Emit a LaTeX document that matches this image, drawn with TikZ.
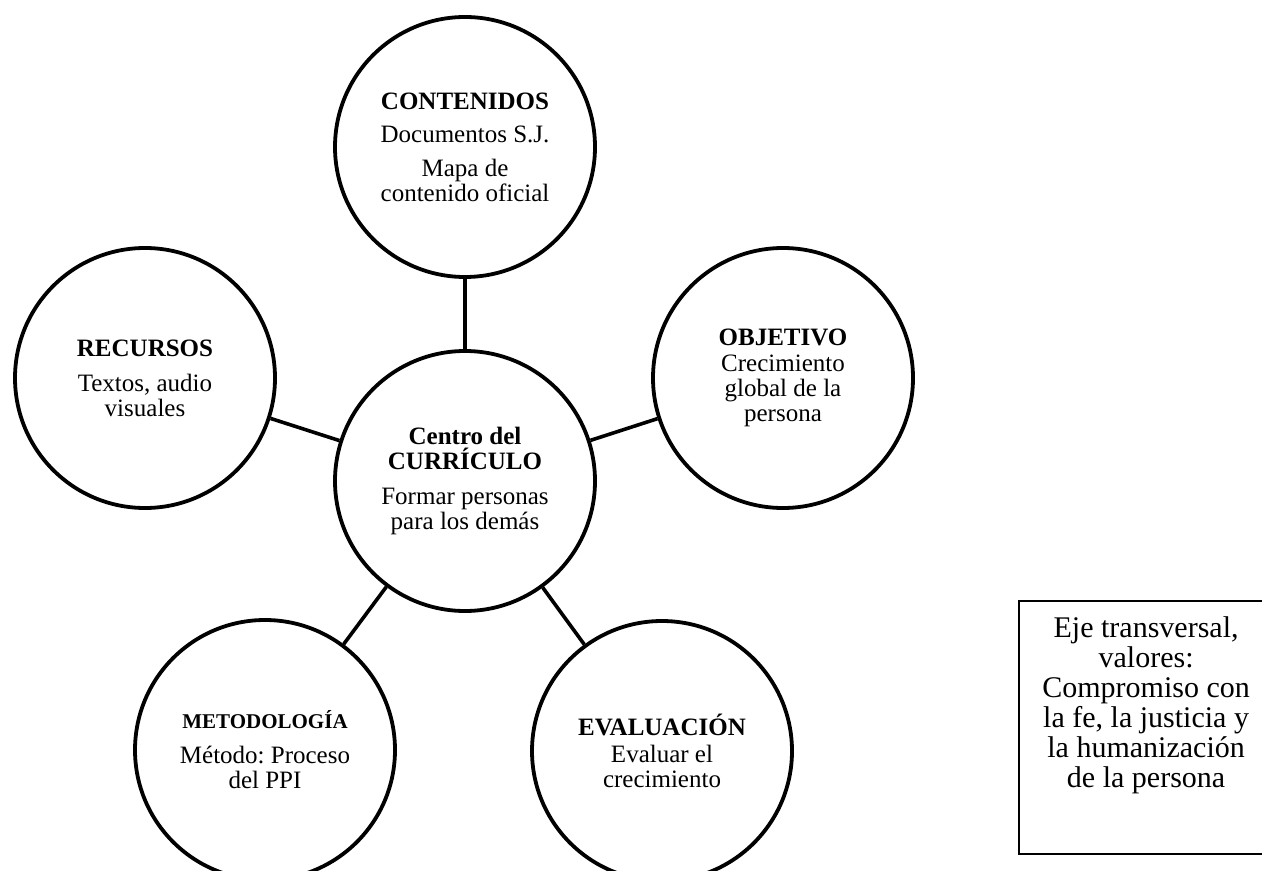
\documentclass[tikz,border=0pt]{standalone}
\usepackage{fontspec}
\setmainfont{Liberation Serif}
\usetikzlibrary{positioning}
\frenchspacing

\tikzset{
	ring/.style={circle, draw=black, line width=1.9pt, minimum size=130pt, inner sep=0pt, align=center, fill=white, font=\fontsize{12.5}{12.5}\selectfont},
	spoke/.style={line width=1.8pt},
	axisbox/.style={draw=black, line width=1.1pt, minimum width=127pt, minimum height=126.5pt, inner sep=0pt, anchor=north west},
	axistext/.style={inner sep=0pt, align=center, font=\fontsize{15}{15}\selectfont}
}

\begin{document}
\begin{tikzpicture}[x=0.5pt, y=-0.5pt]
	\clip (0,0) rectangle (1262,871);
	% centre of the curriculum
	\node[ring] (cent) at (465,481) {\textbf{Centro del}\\ \textbf{CURRÍCULO}\\[5pt] Formar personas\\ para los demás};
	% the five satellites
	\node[ring] (cont) at (465,147) {\textbf{CONTENIDOS}\\[4pt] Documentos S.J.\\[4.5pt] Mapa de\\ contenido oficial};
	\node[ring] (recu) at (145,378) {\textbf{RECURSOS}\\[5pt] Textos, audio\\ visuales};
	\node[ring] (obje) at (783,378) {\textbf{OBJETIVO}\\[0.5pt] Crecimiento\\ global de la\\ persona};
	\node[ring] (meto) at (265,750) {{\fontsize{10.5}{12.5}\selectfont\textbf{METODOLOGÍA}}\\[5pt] Método: Proceso\\ del PPI};
	\node[ring] (eval) at (662,751) {\textbf{EVALUACIÓN}\\[1pt] Evaluar el\\ crecimiento};
	\foreach \s in {cont, recu, obje, meto, eval}
	{\draw[spoke] (cent) -- (\s);}
	% transversal axis
	\node[axisbox] (eje) at (1018,600) {};
	\node[axistext, below=8pt of eje.north] (ejetext) {Eje transversal,\\ valores:\\ Compromiso con\\ la fe, la justicia y\\ la humanización\\ de la persona};
\end{tikzpicture}
\end{document}
